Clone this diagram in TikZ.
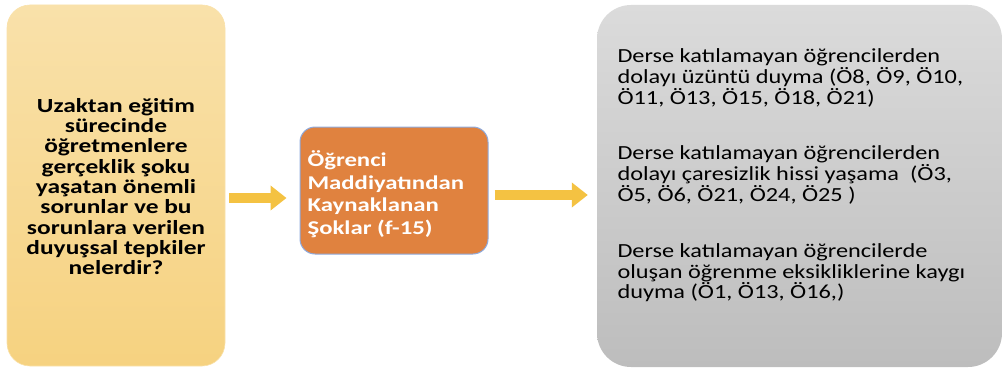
\documentclass[tikz,border=0pt]{standalone}
\usepackage{fontspec}
\setmainfont{Carlito}
\newfontfamily\widefont{Carlito}[FakeStretch=1.215]
\newfontfamily\widebold{Carlito Bold}[FakeStretch=1.27]
\usetikzlibrary{arrows.meta}
\definecolor{ytop}{HTML}{F9E1AA}
\definecolor{ybot}{HTML}{F6D280}
\definecolor{gtop}{HTML}{DBDBDB}
\definecolor{gbot}{HTML}{BDBDBD}
\definecolor{orng}{HTML}{E0823F}
\definecolor{oedge}{HTML}{8FAADC}
\definecolor{arr}{HTML}{F4C242}
\tikzset{
  qbox/.style={rounded corners=23pt, top color=ytop, bottom color=ybot, draw=ytop, line width=0.6pt, minimum width=218pt, minimum height=361pt, inner sep=0pt},
  mbox/.style={rounded corners=15pt, fill=orng, draw=oedge, line width=1pt, minimum width=188pt, minimum height=127pt, inner sep=0pt},
  gbox/.style={rounded corners=34pt, top color=gtop, bottom color=gbot, draw=none, minimum width=405pt, minimum height=362pt, inner sep=0pt},
  fat/.style={draw=arr, line width=10pt, -{Triangle[length=16pt, width=24pt]}},
  qtext/.style={font=\widebold\fontsize{20}{20.3}\selectfont, align=center, text=black},
  mtext/.style={font=\widebold\fontsize{19.5}{22.5}\selectfont, align=left, text=white},
  rtext/.style={font=\widefont\fontsize{20}{20.7}\selectfont, align=left, text=black, anchor=north west}
}
\begin{document}
\begin{tikzpicture}[x=1pt,y=-1pt]
\useasboundingbox (0,0) rectangle (1003,369);
\node[qbox] (qb) at (116,185.5) {};
\node[qtext] (q) at (116,186.5) {Uzaktan eğitim\\ sürecinde\\ öğretmenlere\\ gerçeklik şoku\\ yaşatan önemli\\ sorunlar ve bu\\ sorunlara verilen\\ duyuşsal tepkiler\\ nelerdir?};
\node[mbox] (mb) at (394,190.5) {};
\node[mtext, anchor=west] (m) at (304,194) {Öğrenci\\ Maddiyatından\\ Kaynaklanan\\ Şoklar (f-15)};
\node[gbox] (gb) at (799.5,186) {};
\node[rtext] (r1) at (614,45.5) {Derse katılamayan öğrencilerden\\ dolayı üzüntü duyma (Ö8, Ö9, Ö10,\\ Ö11, Ö13, Ö15, Ö18, Ö21)};
\node[rtext] (r2) at (614,142.5) {Derse katılamayan öğrencilerden\\ dolayı çaresizlik hissi yaşama \ (Ö3,\\ Ö5, Ö6, Ö21, Ö24, Ö25 )};
\node[rtext] (r3) at (614,240) {Derse katılamayan öğrencilerde\\ oluşan öğrenme eksikliklerine kaygı\\ duyma (Ö1, Ö13, Ö16,)};
\draw[fat, shorten <=4pt, shorten >=13pt] ([yshift=-12.5pt]qb.east) -- ([yshift=-7.5pt]mb.west);
\draw[fat, shorten <=6pt, shorten >=9pt] ([yshift=-4.5pt]mb.east) -- ([yshift=-9pt]gb.west);
\end{tikzpicture}
\end{document}
